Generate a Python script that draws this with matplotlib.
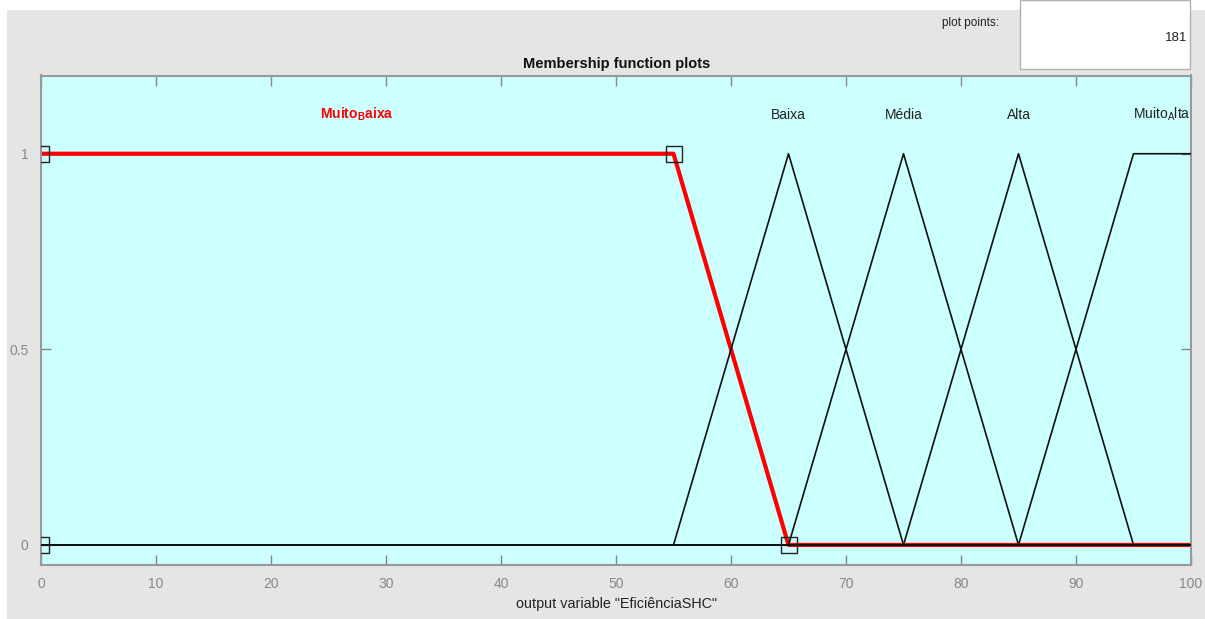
"""
Membership function plot for output variable EficiênciaSHC (fuzzy toolbox style).
"""

import numpy as np
import matplotlib
matplotlib.use("Agg")
import matplotlib.pyplot as plt
from matplotlib.patches import Rectangle

plt.rcParams['font.family'] = ['Liberation Sans', 'DejaVu Sans']
plt.rcParams['mathtext.fontset'] = 'custom'
plt.rcParams['mathtext.rm'] = 'Liberation Sans'
plt.rcParams['mathtext.bf'] = 'Liberation Sans:bold'

# Data
x_range = [0, 100]
plot_points = 181
mf_names = ['Muito_Baixa', 'Baixa', 'Média', 'Alta', 'Muito_Alta']
mf_types = ['trapmf', 'trimf', 'trimf', 'trimf', 'trapmf']
mf_params = [
    [0, 0, 55, 65],
    [55, 65, 75],
    [65, 75, 85],
    [75, 85, 95],
    [85, 95, 100, 100],
]
selected = 0
x_ticks = list(range(0, 101, 10))
y_ticks = [0, 0.5, 1]


def trapmf(x, p):
    a, b, c, d = p
    y = np.ones_like(x)
    if b > a:
        y = np.minimum(y, (x - a) / (b - a))
    else:
        y = np.where(x < a, 0.0, y)
    if d > c:
        y = np.minimum(y, (d - x) / (d - c))
    else:
        y = np.where(x > d, 0.0, y)
    return np.clip(y, 0, 1)


def trimf(x, p):
    a, b, c = p
    return trapmf(x, [a, b, b, c])


def eval_mf(x, kind, p):
    return trapmf(x, p) if kind == 'trapmf' else trimf(x, p)


def mf_label(name, bold=False):
    parts = name.split('_')
    if len(parts) == 1:
        return name
    cmd = r'\mathbf' if bold else r'\mathrm'
    return '$' + cmd + '{' + parts[0] + '}_{' + cmd + '{' + parts[1][0] + '}}' + cmd + '{' + parts[1][1:] + '}$'


W, H = 1205, 619
fig = plt.figure(figsize=(W / 100, H / 100), dpi=100, facecolor='white')

# gray panel background
fig.patches.append(Rectangle((7 / W, 0), 1 - 7 / W, 1 - 10 / H, transform=fig.transFigure,
                             facecolor='#e5e5e5', edgecolor='none', zorder=-2))
# plot points box
fig.patches.append(Rectangle((1020 / W, 1 - 69 / H), 170 / W, 69 / H, transform=fig.transFigure,
                             facecolor='white', edgecolor='#b0b0b0', lw=1, zorder=-1))
fig.text(970 / W, 1 - 23 / H, 'plot points:', ha='center', va='center', fontsize=8.5, color='#222222')
fig.text(1187 / W, 1 - 38 / H, str(plot_points), ha='right', va='center', fontsize=9.5, color='#222222')

ax = fig.add_axes([41 / W, 1 - 564.5 / H, 1150 / W, 489 / H])
ax.set_zorder(5)
ax.set_facecolor('#ccffff')
ax.set_xlim(x_range)
ax.set_ylim(-0.05, 1.2)

x = np.linspace(x_range[0], x_range[1], plot_points)
for i, (name, kind, p) in enumerate(zip(mf_names, mf_types, mf_params)):
    y = eval_mf(x, kind, p)
    peak = x[y >= 1]
    xc = (peak.min() + peak.max()) / 2
    if i == selected:
        ax.plot(x, y, color='red', lw=3, zorder=2, solid_capstyle='butt')
        ax.plot(p, [0, 1, 1, 0] if kind == 'trapmf' else [0, 1, 0], ls='none', marker='s',
                ms=11, mfc='none', mec='#222222', mew=1, zorder=4)
        ax.text(xc, 1.1, mf_label(name, bold=True), color='red', ha='center', va='center', fontsize=10)
    else:
        ax.plot(x, y, color='#111111', lw=1.2, zorder=3)
        ax.text(xc, 1.1, mf_label(name), color='#222222', ha='center', va='center', fontsize=10)

ax.set_xticks(x_ticks)
ax.set_yticks(y_ticks)
ax.set_yticklabels(['0', '0.5', '1'])
ax.tick_params(direction='in', length=7, width=1, colors='#888888', labelsize=10,
               top=True, right=True, pad=9)
for s in ax.spines.values():
    s.set_color('#999999')
    s.set_linewidth(1.5)

fig.text(617 / W, 1 - 64 / H, 'Membership function plots', ha='center', va='center',
         fontsize=10.5, fontweight='bold', color='#111111')
fig.text(617 / W, 1 - 604 / H, 'output variable "EficiênciaSHC"', ha='center', va='center',
         fontsize=10.4, color='#222222')

fig.savefig('out.png', dpi=100, facecolor=fig.get_facecolor())
